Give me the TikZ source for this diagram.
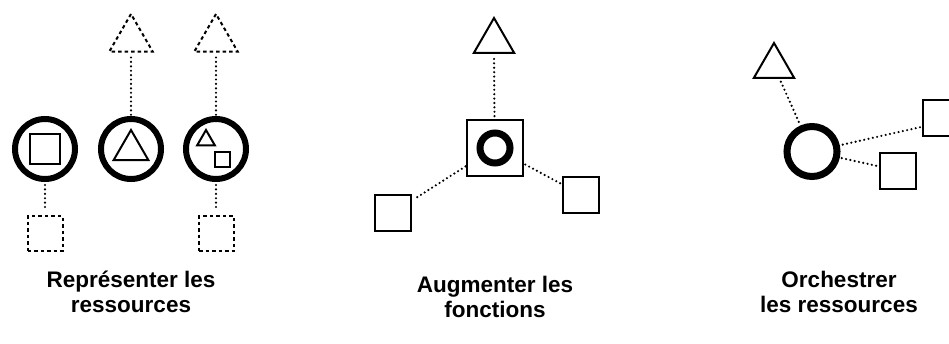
\documentclass[tikz,border=0pt]{standalone}
\usepackage{fontspec}
\setmainfont{Liberation Sans}
\usetikzlibrary{shapes.geometric}
\begin{document}
\begin{tikzpicture}[x=1pt,y=-1pt,
  ring/.style={circle,draw,inner sep=0pt,line width=#1},
  ring/.default=6pt,
  sq/.style={rectangle,draw,line width=2pt,inner sep=0pt,minimum size=#1},
  sq/.default=36pt,
  tri/.style={regular polygon,regular polygon sides=3,draw,line width=2pt,inner sep=0pt,minimum size=#1},
  dash5/.style={dash pattern=on 3.5pt off 3pt},
  link/.style={draw,line width=2.4pt,line cap=round,dash pattern=on 0pt off 4.4pt},
  caption/.style={font=\fontsize{22.5}{25}\selectfont\bfseries,align=center,anchor=base,inner sep=0pt}]
\useasboundingbox (0,0) rectangle (949,343);
% ---------- group 1 ----------
\node[ring,minimum size=60pt] (c1) at (45,149) {};
\node[ring,minimum size=60pt] (c2) at (131,149) {};
\node[ring,minimum size=60pt] (c3) at (216,149) {};
\node[sq=30pt] (s1) at (45,149) {};
\node[tri=40pt] (t2) at (131,150) {};
\node[tri=20.6pt] (t3) at (206,140.3) {};
\node[sq=15pt] (s3) at (222.5,159) {};
\node[tri=50pt,dash5] (dt2) at (131,39) {};
\node[tri=50pt,dash5] (dt3) at (216,39) {};
\node[sq=35pt,dash5] (ds1) at (45,233.5) {};
\node[sq=35pt,dash5] (ds3) at (216.5,233.5) {};
\draw[link,shorten <=5pt] (dt2.south) -- (c2.north);
\draw[link,shorten <=5pt] (dt3.south) -- (c3.north);
\draw[link,shorten <=3pt,shorten >=4pt] (c1.south) -- (ds1.north);
\draw[link,shorten <=3pt,shorten >=4pt] (c3.south) -- (ds3.north -| c3.south);
% ---------- group 2 ----------
\node[sq=56pt] (B) at (494.5,148) {};
\node[ring=7pt,minimum size=30pt] (o) at (495,148) {};
\node[tri=46.6pt] (T) at (494,41.3) {};
\node[sq=36pt] (L) at (393,212.5) {};
\node[sq=36pt] (R) at (581,194.5) {};
\draw[link,shorten <=5pt] (T.south) -- (B.north);
\draw[link,shorten >=2pt] (B) -- (L);
\draw[link,shorten <=2pt] (B) -- (R);
% ---------- group 3 ----------
\node[ring=7pt,minimum size=50pt] (C) at (812,151.5) {};
\node[tri=46.6pt] (T3) at (774,66.3) {};
\node[sq=36pt] (Q1) at (941,117.5) {};
\node[sq=36pt] (Q2) at (897.5,170.5) {};
\draw[link,shorten <=3pt] (T3) -- (C);
\draw[link,shorten <=3pt] (C) -- (Q1.206);
\draw[link,shorten <=2pt] (C) -- (Q2);
% ---------- captions ----------
\node[caption] (l1) at (131,312) {Représenter les\\ressources};
\node[caption] (l2) at (495,317) {Augmenter les\\fonctions};
\node[caption] (l3) at (839,312) {Orchestrer\\les ressources};
\end{tikzpicture}
\end{document}
